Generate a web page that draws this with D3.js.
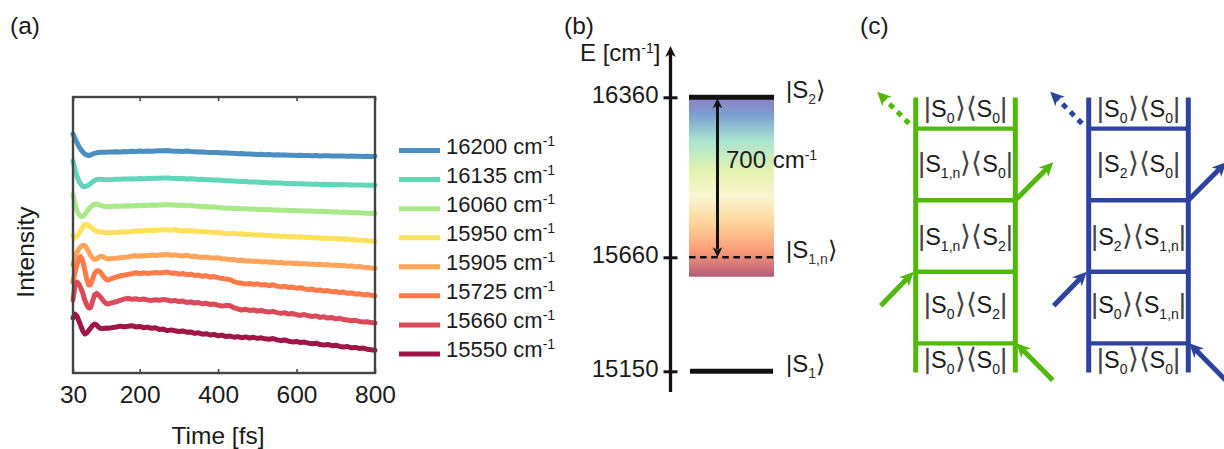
<!DOCTYPE html>
<html>
<head>
<meta charset="utf-8">
<script src="https://d3js.org/d3.v7.min.js"></script>
<style>
  html, body { margin: 0; padding: 0; background: #fff; }
  svg { display: block; }
  text { font-family: "Liberation Sans", Arial, sans-serif; fill: #1a1a1a; }
</style>
</head>
<body>
<div id="chart"></div>
<script>
// panel (a) data
var times = [30,35,40,45,50,55,60,65,70,75,80,85,90,95,100,105,110,115,120,
  130,140,150,160,170,180,190,200,210,220,
  230,240,250,260,270,280,290,300,310,320,
  330,340,350,360,370,380,390,400,410,420,
  430,440,450,460,470,480,490,500,510,520,
  530,540,550,560,570,580,590,600,610,620,
  630,640,650,660,670,680,690,700,710,720,
  730,740,750,760,770,780,790,800];

var i16200 = [239,234.5,230.5,226.5,223.5,221,219,218,217.5,218,219,219.7,220.2,220.5,220.7,220.8,220.7,220.8,220.9,
  221.0,221.2,221.1,221.4,221.3,221.7,221.5,221.9,221.6,222.0,
  221.8,222.0,222.2,222.3,222.4,222.0,221.8,221.7,221.6,221.9,
  221.4,221.3,221.0,221.1,220.7,220.6,220.4,220.5,220.1,220.2,
  219.8,219.7,219.3,219.4,219.0,219.1,218.8,218.6,218.7,218.3,
  218.4,218.1,218.2,217.9,218.0,217.7,217.8,217.6,217.7,217.4,
  217.5,217.3,217.4,217.1,217.2,217.3,217.0,217.1,216.9,217.0,
  216.8,216.9,216.7,216.8,216.6,216.7,216.6,216.7];
var i16135 = [212,204,197,192,188.5,186.7,186.3,187,188,189.5,191,192.5,193.5,193.8,193.7,193.6,193.4,193.2,193.3,
  193.6,193.8,193.7,194.0,193.9,194.2,194.1,194.4,194.3,194.6,
  194.4,194.7,194.8,195.0,195.1,194.7,194.6,194.4,194.5,194.1,
  194.2,193.9,193.6,193.7,193.3,193.2,192.9,193.0,192.6,192.2,
  192.3,191.9,191.8,191.4,191.5,191.1,190.9,191.0,190.6,190.5,
  190.1,190.2,189.9,190.0,189.6,189.5,189.6,189.2,189.3,189.0,
  189.1,188.8,188.9,188.6,188.7,188.5,188.6,188.3,188.4,188.2,
  188.3,188.0,188.1,187.9,188.0,187.8,187.7,187.8];
var i16060 = [178.5,169,162.5,158.5,156.5,156.7,158.5,161.5,164,166,167.7,168.8,169,168.5,167.7,167,166.7,166.5,166.3,
  166.6,166.9,166.7,167.0,167.2,167.0,167.4,167.3,167.7,167.5,
  167.9,167.7,168.0,168.2,168.4,167.9,168.1,167.6,167.7,167.3,
  167.4,167.0,166.8,166.2,166.4,165.9,166.0,165.5,165.2,164.8,
  164.9,164.4,164.7,164.2,164.3,163.9,164.0,163.6,163.7,163.3,
  163.4,163.0,163.1,162.7,162.8,162.4,162.5,162.2,162.3,162.0,
  161.9,162.0,161.6,161.7,161.4,161.5,161.1,161.2,160.8,160.9,
  160.5,160.6,160.2,160.3,159.9,159.8,159.4,159.4];
var i15950 = [137.5,135,136.5,139.5,143,146,148,148.5,147.5,146,144.2,142.7,141.7,141.2,141,140.7,140.4,140.3,140.2,
  140.4,140.5,140.9,141.2,141.0,141.6,142.0,142.3,142.1,142.5,
  142.7,142.4,142.9,143.0,143.3,142.8,143.5,142.6,142.2,142.4,
  141.9,142.0,141.4,141.6,141.0,141.1,140.5,140.7,140.0,139.6,
  139.3,139.8,138.9,139.2,138.5,138.8,138.1,137.9,138.2,137.4,
  137.6,137.0,137.3,136.6,136.9,136.2,136.5,135.9,136.2,135.6,
  135.8,135.2,135.5,134.8,135.1,134.6,134.8,134.2,134.5,133.8,
  133.9,133.3,133.4,132.8,132.9,132.3,131.9,131.7];
var i15905 = [108,115,120.5,124,126.5,127.5,127.5,125,121,117.5,115,113.7,114,115.5,116.7,116.5,115.5,114.5,114,
  114.4,114.8,115.3,115.7,116.0,116.9,117.2,117.0,117.5,117.3,
  117.9,117.6,118.0,118.3,118.6,117.8,118.1,117.4,117.0,117.8,
  116.6,116.8,116.0,115.7,115.9,115.1,114.9,115.2,114.3,114.0,
  113.2,113.5,112.6,112.9,112.0,112.3,111.6,111.8,111.0,111.4,
  110.7,111.0,110.3,110.6,109.8,110.1,109.5,109.7,109.0,109.4,
  108.8,109.1,108.4,108.7,108.1,108.4,107.8,108.0,107.4,107.6,
  106.8,107.1,106.3,106.5,105.8,105.6,105.0,104.7];
var i15725 = [91,100,108,114,116.3,112,103,94,88,88.5,94,99.5,102,102.3,101,98,95.3,93.5,93,
  94.6,95.8,97.2,97.8,98.6,99.2,100.3,99.4,100.2,99.6,
  99.9,100.5,100.0,100.6,100.9,99.8,100.1,98.9,99.5,98.3,
  98.8,97.5,97.9,96.7,97.2,96.0,96.4,95.3,94.6,93.9,
  93.6,91.4,90.3,89.8,88.9,89.5,88.6,89.2,87.9,88.4,
  87.3,88.2,86.9,86.1,86.7,85.5,85.9,84.8,85.3,84.1,
  83.4,83.9,82.6,83.1,81.9,82.4,81.2,81.6,80.4,80.9,
  79.7,80.1,79.0,79.3,78.2,78.5,77.7,77.3];
var i15660 = [73,87,91,89,85,80,73,68,65,65.5,72,78,79.7,78,76,73.5,71,69.5,69,
  70.3,71.2,72.6,73.9,74.8,73.7,74.2,73.4,74.0,73.1,
  72.6,73.2,72.8,73.5,73.0,72.0,72.6,71.4,71.9,70.6,
  71.1,69.9,70.4,69.2,69.7,68.5,68.9,67.8,66.9,67.6,
  67.4,65.3,64.2,63.0,63.7,62.6,63.1,62.0,62.5,61.4,
  60.9,61.6,60.4,59.6,60.2,58.9,59.4,58.3,57.6,58.5,
  57.2,56.5,57.1,55.6,56.2,54.9,55.4,54.1,54.7,53.4,
  53.0,52.3,52.7,51.6,51.0,51.3,50.4,50.0];
var i15550 = [55,59,57,52,47,42,39,40,42.5,45,47.5,49,48,46,44.7,44.5,44.7,45,44.8,
  45.4,46.0,46.9,46.2,46.7,47.3,46.1,46.6,45.3,45.9,
  44.7,45.2,43.6,43.9,42.4,43.1,42.2,41.5,42.0,40.8,
  41.1,39.6,40.2,38.8,39.3,38.0,38.6,37.2,37.9,36.4,
  36.9,35.8,36.4,35.3,36.1,35.0,35.7,34.6,35.2,34.2,
  33.8,34.5,33.1,32.5,33.0,31.8,31.1,31.6,30.4,30.9,
  29.9,29.3,29.8,28.4,27.9,28.5,27.3,27.8,26.6,26.1,
  26.5,25.2,25.6,24.6,24.9,23.8,23.2,22.7];

var traces = [i16200, i16135, i16060, i15950, i15905, i15725, i15660, i15550];
var names = ["16200", "16135", "16060", "15950", "15905", "15725", "15660", "15550"];
var colors = ["#4a8fc0", "#62d6b8", "#a8e98a", "#fee05a", "#ffa45a", "#ff7a48", "#dc4a5a", "#a01545"];
var timeTicks = [30, 200, 400, 600, 800];

// panel (b) data
var levels = [16360, 15660, 15150];
var levelLabels = [["S", "2"], ["S", "1,n"], ["S", "1"]];
var bandColors = ["#8f7fc4", "#7b9fd0", "#a9e4d0", "#e6f2b0", "#f9f6d2", "#fdd59a", "#fb9a78", "#b25a78"];
var bandStops = [0, 0.1, 0.24, 0.42, 0.55, 0.7, 0.86, 1];

// panel (c) data
var greenRows = [["0", "0"], ["1,n", "0"], ["1,n", "2"], ["0", "2"], ["0", "0"]];
var blueRows = [["0", "0"], ["2", "0"], ["2", "1,n"], ["0", "1,n"], ["0", "0"]];

var svg = d3.select("#chart").append("svg").attr("width", 1224).attr("height", 449);
var fs = 24.5;

function addSup(sel, base, sup) {
  sel.append("tspan").text(base);
  sel.append("tspan").attr("dy", -8).attr("font-size", 14).text(sup);
}

svg.selectAll("text.panel").data(["(a)", "(b)", "(c)"]).enter().append("text")
  .attr("class", "panel")
  .attr("x", function(d, i) { return [10, 564, 860][i]; })
  .attr("y", 34)
  .attr("font-size", fs)
  .text(function(d) { return d; });

// ---- (a)
var x = d3.scaleLinear().domain([30, 800]).range([73, 375]);
var y = d3.scaleLinear().domain([0, 276]).range([373, 97]);

var line = d3.line()
  .x(function(d, i) { return x(times[i]); })
  .y(function(d) { return y(d); });

svg.selectAll("path.trace").data(traces).enter().append("path")
  .attr("class", "trace")
  .attr("d", line)
  .attr("fill", "none")
  .attr("stroke", function(d, i) { return colors[i]; })
  .attr("stroke-width", 5)
  .attr("stroke-linecap", "round")
  .attr("stroke-linejoin", "round");

var frame = "#444";
var xAxis = svg.append("g").attr("transform", "translate(0,373)")
  .call(d3.axisBottom(x).tickValues(timeTicks).tickSizeInner(-4).tickSizeOuter(0).tickPadding(13));
var xTop = svg.append("g").attr("transform", "translate(0,97)")
  .call(d3.axisTop(x).tickValues(timeTicks).tickSizeInner(-4).tickSizeOuter(0).tickFormat(""));
svg.append("rect").attr("x", 73).attr("y", 97).attr("width", 302).attr("height", 276)
  .attr("fill", "none").attr("stroke", frame).attr("stroke-width", 2.4);
[xAxis, xTop].forEach(function(a) {
  a.select(".domain").remove();
  a.selectAll("line").attr("stroke", frame).attr("stroke-width", 1.6);
  a.selectAll("text").attr("font-size", fs).attr("font-family", "Liberation Sans").attr("fill", "#1a1a1a");
});

svg.append("text").attr("x", 218).attr("y", 444).attr("text-anchor", "middle")
  .attr("font-size", fs).text("Time [fs]");
svg.append("text").attr("transform", "translate(34,252) rotate(-90)").attr("text-anchor", "middle")
  .attr("font-size", fs).text("Intensity");

var legendY = d3.scaleLinear().domain([0, 7]).range([150.5, 354]);
var legend = svg.selectAll("g.legend").data(names).enter().append("g")
  .attr("class", "legend")
  .attr("transform", function(d, i) { return "translate(0," + legendY(i) + ")"; });
legend.append("line").attr("x1", 399).attr("x2", 440)
  .attr("stroke", function(d, i) { return colors[i]; }).attr("stroke-width", 5);
legend.append("text").attr("x", 446).attr("y", 3).attr("font-size", 22)
  .each(function(d) { addSup(d3.select(this), d + " cm", "-1"); });

// ---- (b)
var energy = d3.scaleLinear().domain([15150, 15660, 16360]).range([371.3, 257.3, 97.3]);
var axisX = 670.5;
var bandL = 689, bandR = 774;

var grad = svg.append("defs").append("linearGradient").attr("id", "band")
  .attr("x1", 0).attr("x2", 0).attr("y1", 0).attr("y2", 1);
grad.selectAll("stop").data(bandColors).enter().append("stop")
  .attr("offset", function(d, i) { return bandStops[i]; })
  .attr("stop-color", function(d) { return d; });

svg.append("rect").attr("x", bandL).attr("width", bandR - bandL)
  .attr("y", energy(16360)).attr("height", energy(15660) + 19.4 - energy(16360))
  .attr("fill", "url(#band)");

var eAxis = svg.append("g").attr("transform", "translate(" + axisX + ",0)")
  .call(d3.axisLeft(energy).tickValues(levels).tickSize(7).tickPadding(5).tickFormat(d3.format("d")));
eAxis.select(".domain").remove();
eAxis.selectAll("line").attr("x1", 7).attr("x2", -7).attr("stroke", "#111").attr("stroke-width", 3);
eAxis.selectAll("text").attr("font-size", 24).attr("dy", "0.2em")
  .attr("font-family", "Liberation Sans").attr("fill", "#1a1a1a");

function arrowHead(xx, yy, angle, color, s) {
  svg.append("path")
    .attr("d", "M0,0L" + (-s) + "," + (-s * 0.48) + "L" + (-s * 0.72) + ",0L" + (-s) + "," + (s * 0.48) + "Z")
    .attr("transform", "translate(" + xx + "," + yy + ") rotate(" + angle + ")")
    .attr("fill", color);
}

svg.append("line").attr("x1", axisX).attr("x2", axisX).attr("y1", 392).attr("y2", 52)
  .attr("stroke", "#111").attr("stroke-width", 3.3);
arrowHead(axisX, 46, -90, "#111", 11);
var eLabel = svg.append("text").attr("x", 580).attr("y", 61).attr("font-size", 24);
addSup(eLabel, "E [cm", "-1");
eLabel.append("tspan").attr("dy", 8).text("]");

svg.selectAll("line.lev").data([16360, 15150]).enter().append("line")
  .attr("class", "lev")
  .attr("x1", function(d, i) { return i ? bandL + 1 : bandL; })
  .attr("x2", function(d, i) { return i ? bandR - 1 : bandR; })
  .attr("y1", energy).attr("y2", energy)
  .attr("stroke", "#111").attr("stroke-width", 5);
svg.append("line").attr("x1", bandL).attr("x2", bandR)
  .attr("y1", energy(15660)).attr("y2", energy(15660))
  .attr("stroke", "#111").attr("stroke-width", 2.4).attr("stroke-dasharray", "6.5 4.6");

var gapX = 717.5;
svg.append("line").attr("x1", gapX).attr("x2", gapX)
  .attr("y1", energy(16360) + 8).attr("y2", energy(15660) - 8)
  .attr("stroke", "#111").attr("stroke-width", 3);
arrowHead(gapX, energy(16360) + 1, -90, "#111", 10);
arrowHead(gapX, energy(15660), 90, "#111", 10);
addSup(svg.append("text").attr("x", 726).attr("y", 168).attr("font-size", 24), "700 cm", "-1");

function subLabel(sel, base, sub) {
  sel.append("tspan").text(base);
  sel.append("tspan").attr("dy", 6).attr("font-size", 14).attr("fill", "#333").text(sub);
}
svg.selectAll("text.level").data(levelLabels).enter().append("text")
  .attr("class", "level")
  .attr("x", 786)
  .attr("y", function(d, i) { return energy(levels[i]) + 1; })
  .attr("font-size", 24)
  .each(function(d) {
    var t = d3.select(this);
    subLabel(t, "|" + d[0], d[1]);
    t.append("tspan").attr("dy", -6).text("\u27E9");
  });

// ---- (c)
var rung = d3.scaleLinear().domain([0, 3]).range([128.7, 343.3]);
var rowBase = [116.7, 171.7, 245, 313.3, 368.3];

function bar(sel, s) {
  sel.append("tspan").attr("font-size", 28).attr("fill", "#444").text(s);
}

function ket(sel, row) {
  bar(sel, "|");
  sel.append("tspan").text("S");
  sel.append("tspan").attr("dy", 6).attr("font-size", 14).text(row[0]);
  sel.append("tspan").attr("dy", -6).attr("font-size", 28).attr("fill", "#444").text("\u27E9\u27E8");
  sel.append("tspan").text("S");
  sel.append("tspan").attr("dy", 6).attr("font-size", 14).text(row[1]);
  sel.append("tspan").attr("dy", -6).attr("font-size", 28).attr("fill", "#444").text("|");
}

function arrow(x1, y1, x2, y2, color, dotted) {
  var angle = Math.atan2(y2 - y1, x2 - x1);
  var back = 9;
  svg.append("line").attr("x1", x1).attr("y1", y1)
    .attr("x2", x2 - back * Math.cos(angle)).attr("y2", y2 - back * Math.sin(angle))
    .attr("stroke", color).attr("stroke-width", 5)
    .attr("stroke-dasharray", dotted ? "5.5 5.5" : null);
  arrowHead(x2, y2, angle * 180 / Math.PI, color, 14);
}

function ladder(left, right, rows, color) {
  var g = svg.append("g");
  [left, right].forEach(function(r) {
    g.append("line").attr("x1", r).attr("x2", r).attr("y1", 97.5).attr("y2", 372.5)
      .attr("stroke", color).attr("stroke-width", 5);
  });
  g.selectAll("line.rung").data(d3.range(4)).enter().append("line")
    .attr("class", "rung")
    .attr("x1", left).attr("x2", right)
    .attr("y1", rung).attr("y2", rung)
    .attr("stroke", color).attr("stroke-width", 4.3);
  g.selectAll("text").data(rows).enter().append("text")
    .attr("x", (left + right) / 2)
    .attr("y", function(d, i) { return rowBase[i]; })
    .attr("text-anchor", "middle")
    .attr("font-size", 23.5)
    .each(function(d) { ket(d3.select(this), d); });

  arrow(left - 6.7, rung(0) - 5.2, left - 38.5, rung(0) - 37, color, true);
  arrow(right, rung(1), right + 38, rung(1) - 38, color);
  arrow(left - 35, rung(2) + 34, left - 2, rung(2), color);
  arrow(right + 37.5, rung(3) + 37, right + 1, rung(3), color);
}

ladder(915.7, 1015.3, greenRows, "#52b808");
ladder(1088.7, 1188.3, blueRows, "#2e43a0");
</script>
</body>
</html>
